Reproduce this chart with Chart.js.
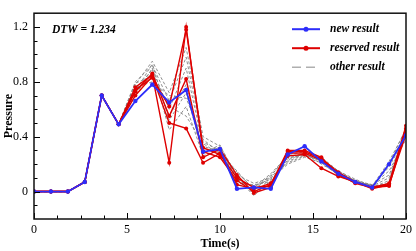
<!DOCTYPE html>
<html>
<head>
<meta charset="utf-8">
<script src="https://cdn.jsdelivr.net/npm/chart.js@4/dist/chart.umd.min.js"></script>
<style>
  html, body { margin: 0; padding: 0; background: #fff; }
  #wrap { width: 416px; height: 251px; }
</style>
</head>
<body>
<div id="wrap"><canvas id="c" width="416" height="251"></canvas></div>
<script>
// ---- data ----
const times = [0, 0.91, 1.82, 2.73, 3.64, 4.55, 5.45, 6.36, 7.27, 8.18, 9.09, 10, 10.91, 11.82, 12.73, 13.64, 14.55, 15.45, 16.36, 17.27, 18.18, 19.09, 20];
const xTicks = [0, 5, 10, 15, 20];
const yTicks = [0, 0.4, 0.8, 1.2];
const yTickText = ['0', '0.4', '0.8', '1.2'];

const newResult = [0, 0, 0, 0.07, 0.70, 0.49, 0.66, 0.78, 0.65, 0.74, 0.29, 0.31, 0.02, 0.03, 0.02, 0.27, 0.33, 0.22, 0.13, 0.07, 0.03, 0.20, 0.41];

const reserved1 = [0, 0, 0, 0.07, 0.70, 0.49, 0.76, 0.85, 0.21, 1.20, 0.29, 0.25, 0.08, 0.00, 0.05, 0.30, 0.30, 0.25, 0.12, 0.07, 0.03, 0.05, 0.48];
const reserved2 = [0, 0, 0, 0.07, 0.70, 0.49, 0.73, 0.86, 0.55, 0.82, 0.25, 0.31, 0.12, -0.01, 0.03, 0.28, 0.28, 0.23, 0.13, 0.06, 0.03, 0.04, 0.45];
const reserved3 = [0, 0, 0, 0.07, 0.70, 0.49, 0.70, 0.84, 0.50, 0.46, 0.21, 0.28, 0.05, 0.02, 0.06, 0.26, 0.27, 0.17, 0.11, 0.07, 0.02, 0.05, 0.42];
const reserved4 = [0, 0, 0, 0.07, 0.70, 0.49, 0.74, 0.83, 0.62, 1.18, 0.32, 0.27, 0.10, 0.03, 0.04, 0.29, 0.29, 0.24, 0.14, 0.07, 0.03, 0.06, 0.46];

const other1 = [0, 0, 0, 0.07, 0.70, 0.49, 0.78, 0.95, 0.72, 1.05, 0.40, 0.33, 0.12, 0.06, 0.10, 0.24, 0.28, 0.24, 0.15, 0.08, 0.04, 0.22, 0.45];
const other2 = [0, 0, 0, 0.07, 0.70, 0.49, 0.80, 0.92, 0.66, 0.98, 0.36, 0.30, 0.10, -0.03, 0.08, 0.22, 0.27, 0.22, 0.14, 0.08, 0.04, 0.18, 0.40];
const other3 = [0, 0, 0, 0.07, 0.70, 0.49, 0.74, 0.89, 0.60, 0.90, 0.33, 0.29, 0.14, 0.02, 0.12, 0.25, 0.26, 0.23, 0.13, 0.07, 0.05, 0.12, 0.43];
const other4 = [0, 0, 0, 0.07, 0.70, 0.49, 0.72, 0.86, 0.55, 0.78, 0.30, 0.32, 0.08, 0.04, 0.09, 0.20, 0.25, 0.21, 0.12, 0.07, 0.03, 0.08, 0.47];
const other5 = [0, 0, 0, 0.07, 0.70, 0.49, 0.76, 0.80, 0.70, 0.68, 0.38, 0.28, 0.15, 0.01, 0.11, 0.27, 0.29, 0.25, 0.15, 0.09, 0.04, 0.06, 0.44];
const other6 = [0, 0, 0, 0.07, 0.70, 0.49, 0.70, 0.90, 0.45, 0.62, 0.26, 0.31, 0.06, 0.05, 0.07, 0.23, 0.28, 0.20, 0.13, 0.08, 0.05, 0.15, 0.38];
const other7 = [0, 0, 0, 0.07, 0.70, 0.49, 0.79, 0.84, 0.62, 0.55, 0.35, 0.27, 0.11, -0.02, 0.10, 0.21, 0.26, 0.24, 0.14, 0.07, 0.04, 0.10, 0.41];
const other8 = [0, 0, 0, 0.07, 0.70, 0.49, 0.73, 0.93, 0.52, 0.72, 0.28, 0.34, 0.09, 0.03, 0.13, 0.26, 0.27, 0.22, 0.12, 0.06, 0.03, 0.20, 0.46];

const reservedSeries = [reserved1, reserved2, reserved3, reserved4];
const otherSeries = [other1, other2, other3, other4, other5, other6, other7, other8];

// ---- styles ----
const BLUE = 'rgb(45,45,250)';
const RED = 'rgb(222,0,0)';
const GREY = 'rgb(130,130,130)';
const SERIF = '"Liberation Serif", "Times New Roman", serif';

const pts = arr => arr.map((v, i) => ({ x: times[i], y: v }));

const datasets = [];
datasets.push({
  label: 'new result', data: pts(newResult), borderColor: BLUE, backgroundColor: BLUE,
  borderWidth: 1.8, pointRadius: 2.2, pointBorderWidth: 0, tension: 0
});
reservedSeries.forEach((s, k) => datasets.push({
  label: 'reserved result', data: pts(s), borderColor: RED, backgroundColor: RED,
  borderWidth: 1.4, pointRadius: 2, pointBorderWidth: 0, tension: 0
}));
otherSeries.forEach((s, k) => datasets.push({
  label: 'other result', data: pts(s), borderColor: GREY, backgroundColor: GREY,
  borderWidth: 0.9, borderDash: [3, 2], pointRadius: 0, tension: 0
}));

const framePlugin = {
  id: 'frame',
  afterDraw(chart) {
    const ctx = chart.ctx;
    const a = chart.chartArea;
    const xs = chart.scales.x, ys = chart.scales.y;
    ctx.save();
    // inward tick marks
    ctx.strokeStyle = '#000';
    ctx.lineWidth = 1;
    for (let v = 0; v <= 20.001; v += 1.25) {
      const px = Math.round(xs.getPixelForValue(v)) + 0.5;
      const major = Math.abs(v / 5 - Math.round(v / 5)) < 1e-6;
      const len = major ? 6 : 3.5;
      ctx.beginPath(); ctx.moveTo(px, a.bottom); ctx.lineTo(px, a.bottom - len); ctx.stroke();
    }
    for (let v = -0.1; v <= 1.3001; v += 0.1) {
      const py = Math.round(ys.getPixelForValue(v)) + 0.5;
      const major = Math.abs(v / 0.4 - Math.round(v / 0.4)) < 1e-6;
      const len = major ? 6 : 3.5;
      ctx.beginPath(); ctx.moveTo(a.left, py); ctx.lineTo(a.left + len, py); ctx.stroke();
    }
    // frame
    ctx.strokeStyle = '#111';
    ctx.lineWidth = 1.5;
    ctx.strokeRect(a.left, a.top, a.right - a.left, a.bottom - a.top);

    // DTW text
    ctx.fillStyle = '#000';
    ctx.font = 'italic bold 11.5px ' + SERIF;
    ctx.textBaseline = 'middle';
    ctx.textAlign = 'left';
    ctx.fillText('DTW = 1.234', a.left + 18, a.top + 17);

    // legend
    const items = [
      { text: 'new result', color: BLUE, dash: [], marker: true, w: 2 },
      { text: 'reserved result', color: RED, dash: [], marker: true, w: 2 },
      { text: 'other result', color: 'rgb(175,175,175)', dash: [9, 5], marker: false, w: 1.5 }
    ];
    items.forEach((it, i) => {
      const y = a.top + 16 + i * 19;
      const x0 = a.right - 114, x1 = a.right - 86;
      ctx.strokeStyle = it.color;
      ctx.lineWidth = it.w;
      ctx.setLineDash(it.dash);
      ctx.beginPath(); ctx.moveTo(x0, y); ctx.lineTo(x1, y); ctx.stroke();
      ctx.setLineDash([]);
      if (it.marker) {
        ctx.fillStyle = it.color;
        ctx.beginPath(); ctx.arc((x0 + x1) / 2, y, 2.5, 0, Math.PI * 2); ctx.fill();
      }
      ctx.fillStyle = '#000';
      ctx.font = 'italic bold 11.5px ' + SERIF;
      ctx.fillText(it.text, a.right - 76, y);
    });
    ctx.restore();
  }
};

new Chart(document.getElementById('c'), {
  type: 'line',
  data: { datasets },
  options: {
    responsive: false,
    animation: false,
    events: [],
    layout: { padding: { left: 0, right: 9, top: 5, bottom: 0 } },
    plugins: { legend: { display: false }, tooltip: { enabled: false } },
    scales: {
      x: {
        type: 'linear', min: 0, max: 20,
        afterBuildTicks: s => { s.ticks = xTicks.map(v => ({ value: v })); },
        afterFit: s => { s.height = 32; },
        grid: { display: false, drawTicks: false },
        border: { display: false },
        ticks: { color: '#000', font: { family: SERIF, size: 12 }, padding: 4, maxRotation: 0,
                 callback: v => String(v) },
        title: { display: true, text: 'Time(s)', color: '#000',
                 font: { family: SERIF, size: 12, weight: 'bold' }, padding: { top: 0, bottom: 0 } }
      },
      y: {
        type: 'linear', min: -0.2, max: 1.3,
        afterBuildTicks: s => { s.ticks = yTicks.map(v => ({ value: v })); },
        afterFit: s => { s.width = 34; },
        grid: { display: false, drawTicks: false },
        border: { display: false },
        ticks: { color: '#000', font: { family: SERIF, size: 12 }, padding: 6,
                 callback: (v) => { const i = yTicks.findIndex(t => Math.abs(t - v) < 1e-6); return i >= 0 ? yTickText[i] : ''; } },
        title: { display: true, text: 'Pressure', color: '#000',
                 font: { family: SERIF, size: 12, weight: 'bold' }, padding: { top: 2, bottom: 0 } }
      }
    }
  },
  plugins: [framePlugin]
});
</script>
</body>
</html>
